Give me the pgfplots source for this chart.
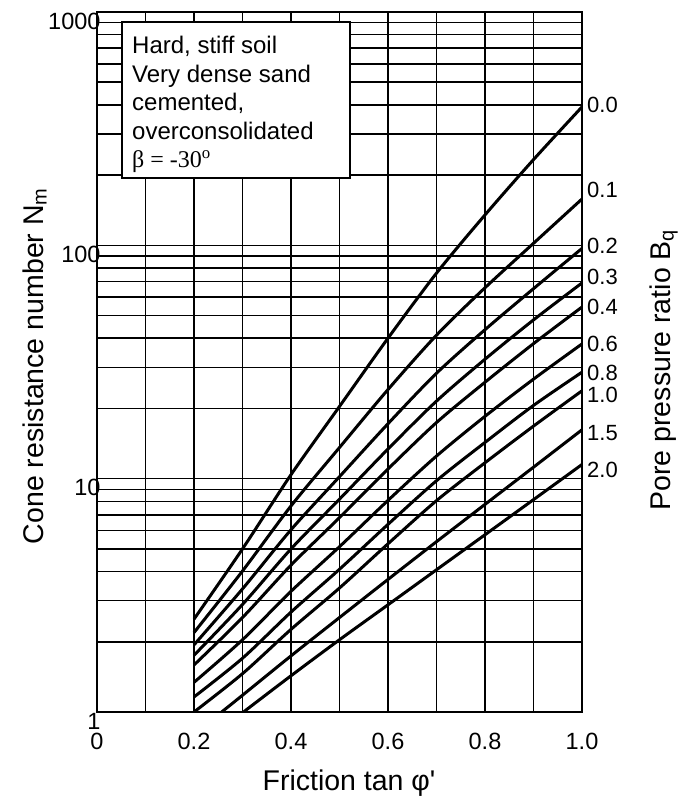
\documentclass[border=0pt]{standalone}
\usepackage{fontspec}
\setmainfont{Liberation Sans}
\newfontfamily\seriffont{Liberation Serif}
\usepackage{pgfplots}
\pgfplotsset{compat=1.18}
\begin{document}
\begin{tikzpicture}[x=1pt,y=1pt]
\path[use as bounding box] (0,0) rectangle (681,798);
\begin{axis}[
  at={(97pt,86pt)}, anchor=south west,
  scale only axis, width=485pt, height=700pt,
  xmin=0, xmax=1, ymin=1, ymax=1000, ymode=log,
  xtick={0,0.1,0.2,0.3,0.4,0.5,0.6,0.7,0.8,0.9,1.0},
  xticklabels={\mbox{0},,\mbox{0.2},,\mbox{0.4},,\mbox{0.6},,\mbox{0.8},,\mbox{1.0}},
  ytick={1,10,100,1000}, yticklabels={\mbox{1},\mbox{10},\mbox{100},\mbox{1000}},
  minor ytick={2,3,4,5,6,7,8,9,20,30,40,50,60,70,80,90,200,300,400,500,600,700,800,900},
  grid=both,
  major grid style={black, line width=1.5pt},
  minor grid style={black, line width=1.5pt},
  axis line style={black, line width=1.8pt},
  major tick length=0pt, minor tick length=0pt,
  tick label style={font=\fontsize{23.5}{27}\selectfont},
  xticklabel style={yshift=-18pt},
  yticklabel style={xshift=7pt, yshift=-9pt},
  cycle list={{black, solid, line width=3pt, mark=none}},
  curve/.style={black, solid, line width=3pt, mark=none, smooth},
]
% B_q = 0.0
\addplot[curve] coordinates {(0.2,2.5)(0.3,5.0)(0.4,10.4)(0.5,20.4)(0.6,40)(0.7,76)(0.8,135)(0.9,233)(1.0,392)};
% B_q = 0.1
\addplot[curve] coordinates {(0.2,2.19)(0.3,4.02)(0.4,7.64)(0.5,13.6)(0.6,24.1)(0.7,41.2)(0.8,65.8)(0.9,102)(1.0,158)};
% B_q = 0.2
\addplot[curve] coordinates {(0.2,1.94)(0.3,3.37)(0.4,6.04)(0.5,10.2)(0.6,17.2)(0.7,28.3)(0.8,43.5)(0.9,65.2)(1.0,97)};
% B_q = 0.3
\addplot[curve] coordinates {(0.2,1.75)(0.3,2.89)(0.4,5.0)(0.5,8.17)(0.6,13.4)(0.7,21.5)(0.8,32.5)(0.9,47.9)(1.0,69)};
% B_q = 0.4
\addplot[curve] coordinates {(0.2,1.59)(0.3,2.54)(0.4,4.26)(0.5,6.81)(0.6,11.0)(0.7,17.4)(0.8,25.9)(0.9,37.9)(1.0,54.4)};
% B_q = 0.6
\addplot[curve] coordinates {(0.2,1.34)(0.3,2.04)(0.4,3.29)(0.5,5.11)(0.6,8.07)(0.7,12.5)(0.8,18.5)(0.9,26.7)(1.0,37.8)};
% B_q = 0.8
\addplot[curve] coordinates {(0.2,1.16)(0.3,1.70)(0.4,2.68)(0.5,4.09)(0.6,6.37)(0.7,9.80)(0.8,14.3)(0.9,20.6)(1.0,28.6)};
% B_q = 1.0
\addplot[curve] coordinates {(0.2,1.0)(0.3,1.46)(0.4,2.26)(0.5,3.40)(0.6,5.26)(0.7,8.05)(0.8,11.7)(0.9,16.8)(1.0,23.8)};
% B_q = 1.5
\addplot[curve] coordinates {(0.257,1.0)(0.3,1.18)(0.4,1.74)(0.5,2.54)(0.6,3.70)(0.7,5.37)(0.8,7.76)(0.9,11.2)(1.0,16.2)};
% B_q = 2.0
\addplot[curve] coordinates {(0.302,1.0)(0.4,1.43)(0.5,2.04)(0.6,2.88)(0.7,4.07)(0.8,5.75)(0.9,8.13)(1.0,11.5)};
\end{axis}
% annotation box
\draw[black, line width=1.5pt, fill=white] (122,620) rectangle (350,776);
\begin{scope}[every node/.style={anchor=base west, inner sep=0, font=\fontsize{24}{28}\selectfont}]
\node at (132,744) {Hard, stiff soil};
\node at (132,715.5) {Very dense sand};
\node at (132,687) {cemented,};
\node at (132,658.5) {overconsolidated};
\node at (132,630) {\seriffont β = -30\textsuperscript{o}};
\end{scope}
% curve labels (pore pressure ratio)
\begin{scope}[every node/.style={anchor=west, inner sep=0, font=\fontsize{22}{26}\selectfont}]
\node at (587,693) {0.0};
\node at (587,608) {0.1};
\node at (587,552) {0.2};
\node at (587,521) {0.3};
\node at (587,491) {0.4};
\node at (587,454) {0.6};
\node at (587,425) {0.8};
\node at (587,403) {1.0};
\node at (587,365) {1.5};
\node at (587,328) {2.0};
\end{scope}
% axis titles
\node[rotate=90, anchor=base, inner sep=0, font=\fontsize{28.5}{34}\selectfont] at (43,432) {Cone resistance number N\textsubscript{m}};
\node[rotate=90, anchor=base, inner sep=0, font=\fontsize{28.5}{34}\selectfont] at (670,428) {Pore pressure ratio B\textsubscript{q}};
\node[anchor=base, inner sep=0, font=\fontsize{28.5}{34}\selectfont] at (349,8) {Friction tan φ\textquotesingle};
\end{tikzpicture}
\end{document}
